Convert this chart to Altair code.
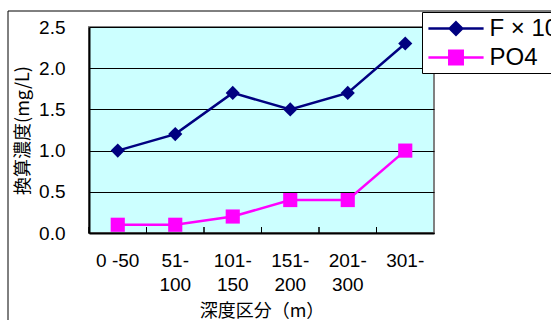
import altair as alt
import pandas as pd

# depth classes (m) and measured concentrations (mg/L)
depth_bins = ["0 -50", "51-\n100", "101-\n150", "151-\n200", "201-\n300", "301-"]
f_times10 = [1.0, 1.2, 1.7, 1.5, 1.7, 2.3]
po4 = [0.1, 0.1, 0.2, 0.4, 0.4, 1.0]
series_names = ["F × 10", "PO4"]
series_colors = ["#000080", "#FF00FF"]
series_markers = ["diamond", "square"]
y_ticks = [0.0, 0.5, 1.0, 1.5, 2.0, 2.5]

rows = []
for name, vals in zip(series_names, [f_times10, po4]):
    for d, v in zip(depth_bins, vals):
        rows.append({"depth": d, "value": v, "series": name})
df = pd.DataFrame(rows)

W, H = 345, 206
FONT = "Liberation Sans"
CJK = "Noto Sans CJK JP"

# legend symbols: a short line with the series marker in the middle
line_part = "M-2.3,0L2.3,0"
diamond_sym = line_part + "M0,-0.52L0.52,0L0,0.52L-0.52,0Z"
square_sym = line_part + "M-0.56,-0.56L0.56,-0.56L0.56,0.56L-0.56,0.56Z"

x_axis = alt.Axis(
    title="深度区分（m）",
    titleFont=CJK,
    titleFontSize=18,
    titleFontWeight="normal",
    titleColor="black",
    titlePadding=8,
    bandPosition=0.5,
    labelAngle=0,
    labelAlign="center",
    labelExpr="split(datum.label, '\\n')",
    labelFont=FONT,
    labelFontSize=19,
    labelColor="black",
    labelLineHeight=24,
    labelPadding=27,
    labelBaseline="middle",
    ticks=False,
    domainColor="black",
    domainWidth=2,
    grid=False,
)
x_scale = alt.Scale(type="band", paddingInner=0, paddingOuter=0)

x_enc = alt.X("depth:N", sort=depth_bins, scale=x_scale, axis=x_axis)

y_enc = alt.Y(
    "value:Q",
    scale=alt.Scale(domain=[0, 2.5], nice=False),
    axis=alt.Axis(
        title="換算濃度(mg/L)",
        titleFont=CJK,
        titleFontSize=18,
        titleFontWeight="normal",
        titleColor="black",
        titlePadding=6,
        values=y_ticks,
        format=".1f",
        labelFont=FONT,
        labelFontSize=19,
        labelColor="black",
        labelPadding=24,
        ticks=False,
        domainColor="black",
        domainWidth=2,
        grid=True,
        gridColor="black",
        gridWidth=1,
        gridOpacity=1,
    ),
)

legend = alt.Legend(
    title=None,
    orient="none",
    legendX=333,
    legendY=-15,
    direction="vertical",
    labelFont=FONT,
    labelFontSize=24,
    labelColor="black",
    labelOffset=20,
    symbolOffset=17.5,
    symbolSize=576,
    symbolStrokeWidth=2.5,
    symbolOpacity=1,
    rowPadding=3,
    padding=3,
    strokeColor="black",
    fillColor="white",
)

base = alt.Chart(df)

# one line + marker layer per series
series_layers = []
for name, col, marker in zip(series_names, series_colors, series_markers):
    sub = base.transform_filter(alt.datum.series == name)
    series_layers.append(sub.mark_line(strokeWidth=2.5, color=col).encode(x=x_enc, y=y_enc))
    series_layers.append(
        sub.mark_point(filled=True, opacity=1, strokeWidth=0, color=col, shape=marker, size=200)
        .encode(x=x_enc, y=y_enc)
    )

# legend entries: line-and-marker symbols, no marks drawn in the plot
legend_layer = base.transform_filter("false").mark_point(
    filled=True, opacity=1, strokeWidth=2.5
).encode(
    x=x_enc,
    y=y_enc,
    color=alt.Color("series:N", sort=series_names,
                    scale=alt.Scale(domain=series_names, range=series_colors), legend=legend),
    stroke=alt.Stroke("series:N", sort=series_names,
                      scale=alt.Scale(domain=series_names, range=series_colors), legend=legend),
    shape=alt.Shape("series:N", sort=series_names,
                    scale=alt.Scale(domain=series_names, range=[diamond_sym, square_sym]),
                    legend=legend),
)

# short inward ticks at the category boundaries
ticks = base.mark_rule(color="black", strokeWidth=1).encode(
    x=alt.X("depth:N", sort=depth_bins, scale=x_scale, axis=x_axis, bandPosition=0),
    y=alt.value(H - 6),
    y2=alt.value(H),
)

# outer chart frame
frame = alt.Chart(pd.DataFrame({"k": [0]})).mark_rect(
    fill="white", fillOpacity=0, stroke="black", strokeWidth=1
).encode(
    x=alt.value(-81), x2=alt.value(W + 300), y=alt.value(-16), y2=alt.value(H + 300)
)

chart = (
    alt.layer(frame, ticks, *series_layers, legend_layer)
    .properties(
        width=W,
        height=H,
        autosize=alt.AutoSizeParams(type="none"),
        padding={"left": 89, "top": 27, "right": 117, "bottom": 87},
    )
    .configure(background="white")
    .configure_view(fill="#CCFFFF", stroke="#808080", strokeWidth=2)
)

chart.save("out.html", embed_options={"renderer": "svg", "actions": False})
